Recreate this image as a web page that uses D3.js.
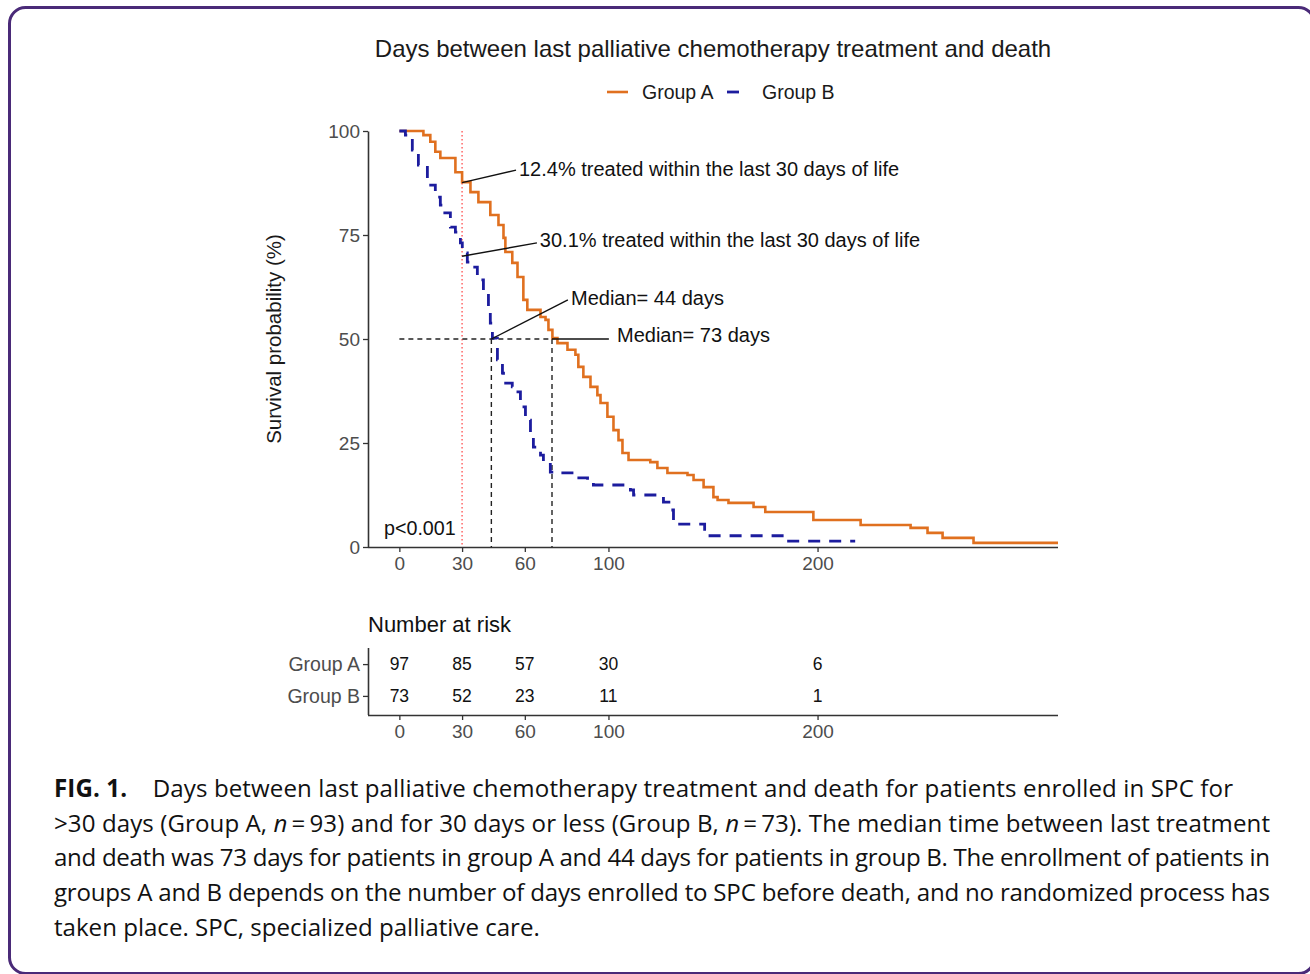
<!DOCTYPE html>
<html>
<head>
<meta charset="utf-8">
<script src="https://cdn.jsdelivr.net/npm/d3@7"></script>
<style>
  body { margin: 0; background: #fff; }
  svg text { font-family: "Liberation Sans", Arial, sans-serif; }
  svg text.caption { font-family: "Open Sans", "Noto Sans", sans-serif; }
</style>
</head>
<body>
<div id="chart"></div>
<script>
var svgWidth = 1310;
var svgHeight = 974;

// Kaplan-Meier steps (days, survival %)
var timesA = [0, 11.5, 14.8, 17.2, 19.6, 26.8, 30, 34, 37.8, 43.5, 47.4, 49.8, 50.7, 54, 56.5, 59.3, 61.2, 67.5, 69.9, 71.3,
  73.2, 75.6, 80.4, 84.2, 85.6, 88, 91.4, 94.7, 96.2, 99.5, 102.4, 104.8, 106.7, 109.6, 120, 123.4, 128.2, 137.8, 140.7, 145.5,
  150.2, 152.2, 157.4, 169.4, 175, 198, 220.6, 244.5, 252.6, 259.8, 274.6, 315];
var survA = [100, 99, 97.4, 95, 93.5, 90.1, 87.7, 85.3, 82.9, 79.8, 77.4, 74.3, 70.9, 68.3, 64.9, 59.4, 57, 55.3, 54.6, 52.2,
  50.2, 49, 47.4, 46.2, 43.3, 40.9, 38.5, 36.5, 34.6, 31.3, 28.1, 25.7, 22.6, 20.9, 20.4, 19, 17.8, 17.3, 16.1, 14.4,
  12, 11.3, 10.6, 9.6, 8.4, 6.5, 5.3, 4.6, 3.4, 2.2, 1.0, 1.0];

var timesB = [0, 2.9, 6.2, 9.1, 13.4, 17.2, 19.6, 21, 24.4, 26.8, 29.2, 30.1, 32.5, 34, 37.3, 40.2, 42.6, 43.5, 44.5, 46.9,
  49.3, 49.8, 54, 55.5, 57.9, 60.3, 62.7, 64.1, 67.5, 68.9, 72.2, 75.6, 83.3, 90, 92.8, 110.5, 112, 126.3, 129.7, 131.1,
  146, 185, 218];
var survB = [100, 99, 95.4, 91.8, 87, 84.1, 82.2, 80.3, 76.9, 75.7, 73.1, 70.7, 68.5, 67.3, 64.2, 61.1, 57, 53.8, 50.2, 45,
  41.8, 39.4, 38.5, 37.3, 33.7, 30.5, 27.4, 24, 22.1, 20.2, 18, 17.8, 16.6, 15.6, 14.9, 13.7, 12.5, 10.8, 8.9, 5.5,
  2.7, 1.4, 1.4];

var groups = ["Group A", "Group B"];
var xTicks = [0, 30, 60, 100, 200];
var yTicks = [0, 25, 50, 75, 100];
var riskA = [97, 85, 57, 30, 6];
var riskB = [73, 52, 23, 11, 1];
var medians = [44, 73];
var cutoffDay = 30;
var treatedPct = [12.4, 30.1];

var orange = "#e0701f";
var blue = "#1c1c9e";
var grey = "#4d4d4d";

var svg = d3.select("#chart")
  .append("svg")
  .attr("width", svgWidth)
  .attr("height", svgHeight);

// purple frame
svg.append("rect")
  .attr("x", 9.5).attr("y", 7.5)
  .attr("width", 1305).attr("height", 966)
  .attr("rx", 16)
  .attr("fill", "none")
  .attr("stroke", "#4a2a78")
  .attr("stroke-width", 3);

// scales
var x = d3.scaleLinear().domain([-15, 315]).range([368, 1058]);
var y = d3.scaleLinear().domain([0, 100]).range([547, 131]);

// title + legend
svg.append("text")
  .attr("x", 713).attr("y", 48)
  .attr("text-anchor", "middle")
  .attr("dominant-baseline", "central")
  .attr("font-size", "24px")
  .attr("fill", "#1a1a1a")
  .text("Days between last palliative chemotherapy treatment and death");

var legend = svg.append("g");
legend.append("line").attr("x1", 607).attr("x2", 628).attr("y1", 92).attr("y2", 92)
  .attr("stroke", orange).attr("stroke-width", 2.6);
legend.append("text").attr("x", 642).attr("y", 92).attr("dominant-baseline", "central")
  .attr("font-size", "19.5px").attr("fill", "#1a1a1a").text(groups[0]);
legend.append("line").attr("x1", 727).attr("x2", 739).attr("y1", 92).attr("y2", 92)
  .attr("stroke", blue).attr("stroke-width", 2.8);
legend.append("text").attr("x", 762).attr("y", 92).attr("dominant-baseline", "central")
  .attr("font-size", "19.5px").attr("fill", "#1a1a1a").text(groups[1]);

// axes
var leftAxis = d3.axisLeft(y).tickValues(yTicks).tickSize(5).tickSizeOuter(0).tickPadding(3);
var bottomAxis = d3.axisBottom(x).tickValues(xTicks).tickSize(5).tickSizeOuter(0).tickPadding(5);

var yAxis = svg.append("g")
  .attr("transform", "translate(368,0)")
  .call(leftAxis);
var xAxis = svg.append("g")
  .attr("transform", "translate(0,547)")
  .call(bottomAxis);

function styleAxis(a) {
  a.select(".domain").attr("stroke", "#333").attr("stroke-width", 1.6);
  a.selectAll(".tick line").attr("stroke", "#333").attr("stroke-width", 1.3);
  a.selectAll(".tick text").attr("fill", grey).attr("font-size", "19px")
    .attr("font-family", "Liberation Sans, Arial, sans-serif");
}
styleAxis(yAxis);
styleAxis(xAxis);
xAxis.select(".domain").attr("d", "M368,0.5H1058");

svg.append("text")
  .attr("transform", "translate(273,339) rotate(-90)")
  .attr("text-anchor", "middle")
  .attr("dominant-baseline", "central")
  .attr("font-size", "20.5px")
  .attr("fill", "#1a1a1a")
  .text("Survival probability (%)");

// 30-day cutoff
svg.append("line")
  .attr("x1", x(cutoffDay)).attr("x2", x(cutoffDay))
  .attr("y1", y(100)).attr("y2", y(0))
  .attr("stroke", "#ff6f6f").attr("stroke-width", 1.6)
  .attr("stroke-dasharray", "1.6,2.4");

// median guides
svg.append("line")
  .attr("x1", x(0)).attr("x2", x(d3.max(medians)))
  .attr("y1", y(50)).attr("y2", y(50))
  .attr("stroke", "#222").attr("stroke-width", 1.4).attr("stroke-dasharray", "5,4");
medians.forEach(function(m) {
  svg.append("line")
    .attr("x1", x(m)).attr("x2", x(m))
    .attr("y1", y(50)).attr("y2", y(0))
    .attr("stroke", "#222").attr("stroke-width", 1.4).attr("stroke-dasharray", "5,4");
});

// survival curves
var line = d3.line()
  .x(d => x(d[0]))
  .y(d => y(d[1]))
  .curve(d3.curveStepAfter);

svg.append("path")
  .datum(d3.zip(timesA, survA))
  .attr("d", line)
  .attr("fill", "none")
  .attr("stroke", orange)
  .attr("stroke-width", 2.6);

svg.append("path")
  .datum(d3.zip(timesB, survB))
  .attr("d", line)
  .attr("fill", "none")
  .attr("stroke", blue)
  .attr("stroke-width", 2.8)
  .attr("stroke-dasharray", "12,9");

// annotations: [from day, from %, to day, to %, label day, label %, text]
var notes = [
  [cutoffDay, 100 - treatedPct[0], 55.8, 90.6, 57.2, 90.9, treatedPct[0] + "% treated within the last 30 days of life"],
  [cutoffDay, 100 - treatedPct[1], 65.8, 73.1, 67.2, 73.8, treatedPct[1] + "% treated within the last 30 days of life"],
  [medians[0], 50, 80.6, 59.4, 82.1, 59.9, "Median= " + medians[0] + " days"],
  [medians[1], 50, 100.2, 50, 104.1, 51.0, "Median= " + medians[1] + " days"]
];
notes.forEach(function(n) {
  svg.append("line")
    .attr("x1", x(n[0])).attr("y1", y(n[1]))
    .attr("x2", x(n[2])).attr("y2", y(n[3]))
    .attr("stroke", "#111").attr("stroke-width", 1.4);
  svg.append("text")
    .attr("x", x(n[4])).attr("y", y(n[5]))
    .attr("dominant-baseline", "central")
    .attr("font-size", "20px")
    .attr("fill", "#111")
    .text(n[6]);
});

svg.append("text")
  .attr("x", 384).attr("y", 528)
  .attr("dominant-baseline", "central")
  .attr("font-size", "19.7px")
  .attr("fill", "#111")
  .text("p<0.001");

// number at risk table
svg.append("text")
  .attr("x", 368).attr("y", 624)
  .attr("dominant-baseline", "central")
  .attr("font-size", "22px")
  .attr("fill", "#111")
  .text("Number at risk");

var riskY = d3.scalePoint().domain(groups).range([645, 715]).padding(0.6);

var riskLeft = svg.append("g")
  .attr("transform", "translate(368,0)")
  .call(d3.axisLeft(riskY).tickSize(5).tickSizeOuter(0).tickPadding(3));
var riskBottom = svg.append("g")
  .attr("transform", "translate(0,715)")
  .call(d3.axisBottom(x).tickValues(xTicks).tickSize(5).tickSizeOuter(0).tickPadding(5));

styleAxis(riskLeft);
styleAxis(riskBottom);
riskLeft.selectAll(".tick text").attr("font-size", "19.5px");
riskLeft.select(".domain").attr("d", "M0.5,648V715");
riskBottom.select(".domain").attr("d", "M368,0.5H1058");

[riskA, riskB].forEach(function(row, i) {
  svg.selectAll(null)
    .data(row)
    .enter()
    .append("text")
    .attr("x", (d, j) => x(xTicks[j]))
    .attr("y", riskY(groups[i]))
    .attr("text-anchor", "middle")
    .attr("dominant-baseline", "central")
    .attr("font-size", "17.5px")
    .attr("fill", "#111")
    .text(d => d);
});

// caption
var capLines = [
  [{t: "FIG. 1.", b: true}, {t: "\u00a0\u00a0\u00a0 Days between last palliative chemotherapy treatment and death for patients enrolled in SPC for"}],
  [{t: ">30 days (Group A, "}, {t: "n", i: true}, {t: "\u2009=\u200993) and for 30 days or less (Group B, "}, {t: "n", i: true}, {t: "\u2009=\u200973). The median time between last treatment"}],
  [{t: "and death was 73 days for patients in group A and 44 days for patients in group B. The enrollment of patients in"}],
  [{t: "groups A and B depends on the number of days enrolled to SPC before death, and no randomized process has"}],
  [{t: "taken place. SPC, specialized palliative care."}]
];
var capWidths = [1179, 1216, 1216, 1216, 486];

var capTexts = capLines.map(function(parts, i) {
  var t = svg.append("text")
    .attr("class", "caption")
    .attr("x", 54)
    .attr("y", 797 + i * 34.7)
    .attr("font-size", "22px")
    .attr("fill", "#111");
  parts.forEach(function(p) {
    t.append("tspan")
      .attr("font-weight", p.b ? "bold" : null)
      .attr("font-style", p.i ? "italic" : null)
      .text(p.t);
  });
  return t;
});

// fit font size so the unjustified last line has its natural width
var lastW = capTexts[4].node().getComputedTextLength();
var capSize = 22 * capWidths[4] / lastW;
capTexts.forEach(function(t, i) {
  t.attr("font-size", capSize + "px");
  if (i < 4) t.attr("textLength", capWidths[i]).attr("lengthAdjust", "spacing");
});
</script>
</body>
</html>
